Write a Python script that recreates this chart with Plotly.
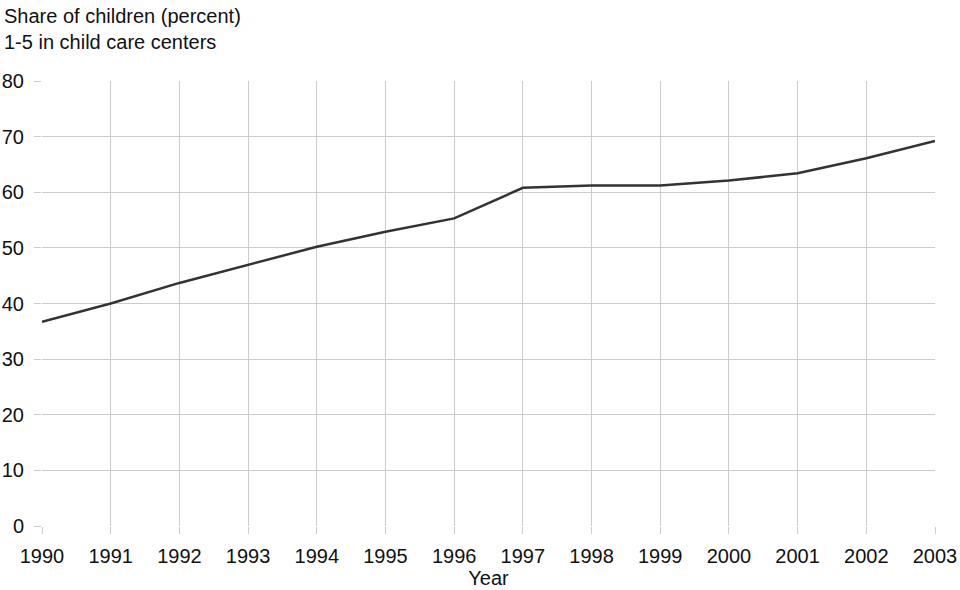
import plotly.graph_objects as go

years = [1990, 1991, 1992, 1993, 1994, 1995, 1996, 1997, 1998, 1999, 2000, 2001, 2002, 2003]
share = [36.7, 40.0, 43.7, 46.9, 50.2, 52.9, 55.3, 60.8, 61.2, 61.2, 62.1, 63.4, 66.1, 69.2]

title_lines = ["Share of children (percent)", "1-5 in child care centers"]
x_title = "Year"

FONT = "Liberation Sans, Arial, sans-serif"
GRID = "#cccccc"
FS = 20

fig = go.Figure()
fig.add_trace(go.Scatter(
    x=years, y=share, mode="lines",
    line=dict(color="#333333", width=2.5),
    showlegend=False, hoverinfo="x+y",
))

fig.update_layout(
    width=960, height=590,
    margin=dict(l=42, r=25, t=81, b=64, autoexpand=False),
    paper_bgcolor="white", plot_bgcolor="white",
    font=dict(family=FONT, size=FS, color="#111111"),
    xaxis=dict(
        range=[years[0], years[-1]],
        tickmode="array", tickvals=years, ticktext=[str(y) for y in years],
        showgrid=True, gridcolor=GRID, gridwidth=1,
        ticks="outside", ticklen=7, tickcolor=GRID,
        ticklabelstandoff=5,
        showline=False, zeroline=False, automargin=False,
        title=dict(text=x_title, standoff=0, font=dict(size=FS)),
        tickfont=dict(size=FS),
    ),
    yaxis=dict(
        range=[0, 80], dtick=10,
        showgrid=True, gridcolor=GRID, gridwidth=1,
        ticks="outside", ticklen=7, tickcolor=GRID,
        ticklabelstandoff=6,
        showline=False, zeroline=False, automargin=False,
        tickfont=dict(size=FS),
    ),
    annotations=[dict(
        text="<br>".join(title_lines),
        xref="paper", yref="paper",
        x=-40 / 893, y=1 + 78 / 445,
        xanchor="left", yanchor="top", align="left",
        showarrow=False, font=dict(size=FS),
    )],
)

fig.write_html(
    "out.html",
    config={"displayModeBar": False},
    post_script="document.body.style.margin='0';document.body.style.overflow='hidden';",
)
